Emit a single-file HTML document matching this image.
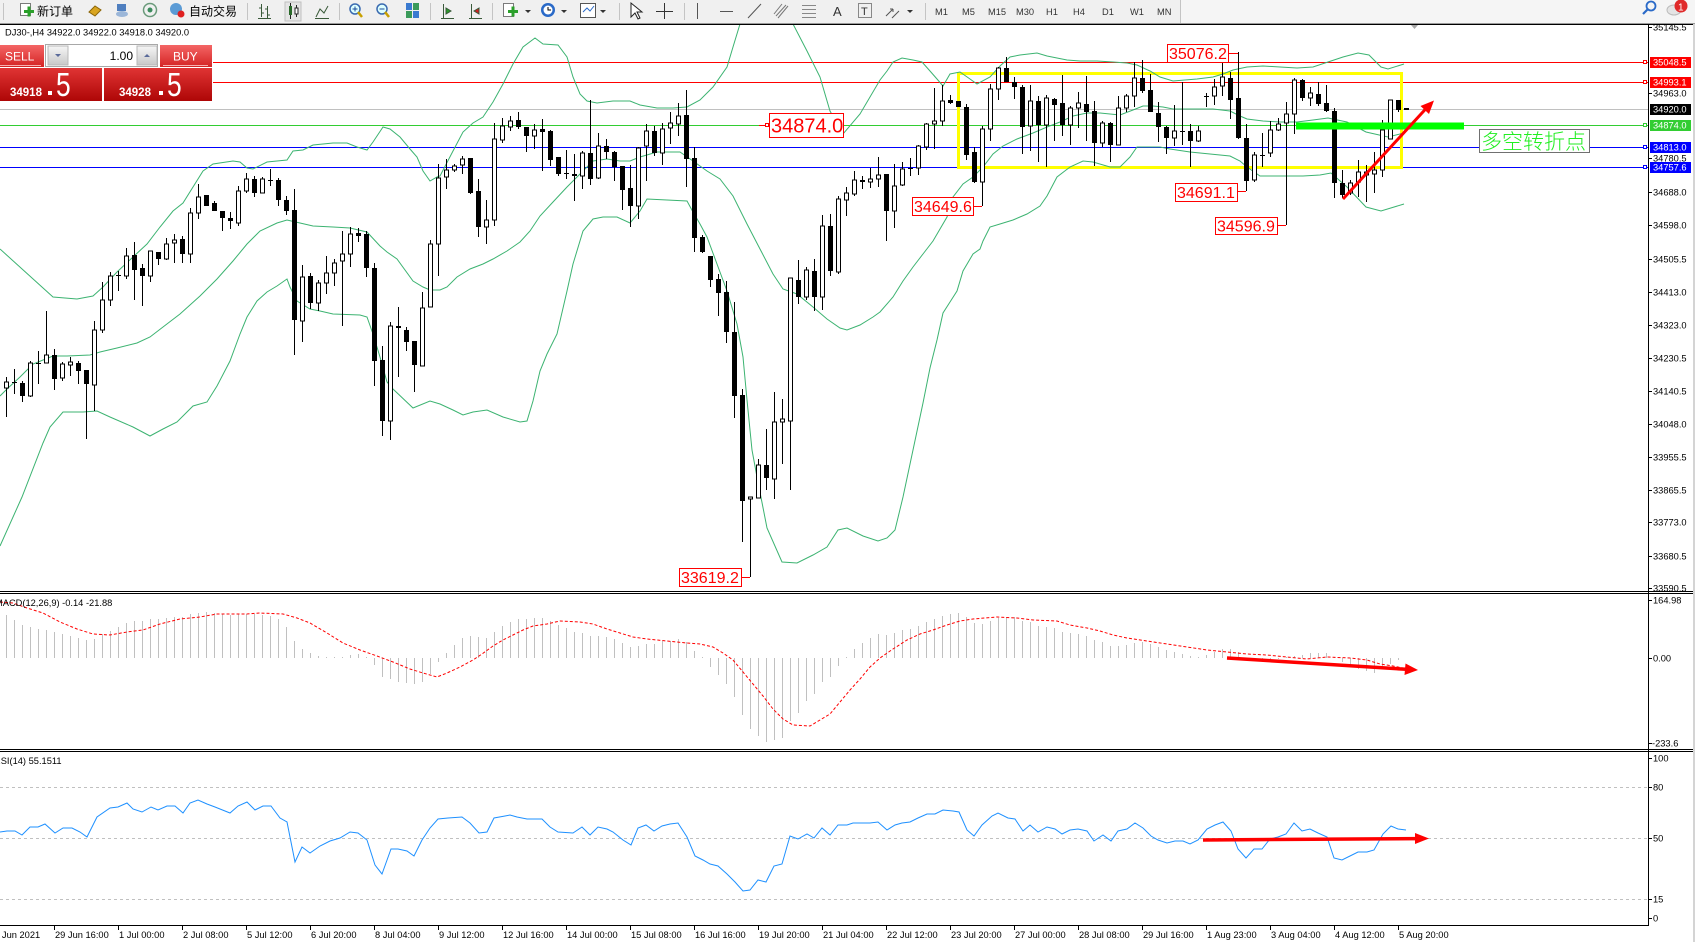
<!DOCTYPE html>
<html><head><meta charset="utf-8"><title>DJ30 H4 chart</title>
<style>
html,body{margin:0;padding:0;background:#fff}
body{width:1695px;height:942px;overflow:hidden;position:relative}
#s{position:absolute;left:0;top:0;font-family:"Liberation Sans","Noto Sans CJK SC",sans-serif}
</style></head><body>
<svg id="s" width="1695" height="942" viewBox="0 0 1695 942" xmlns="http://www.w3.org/2000/svg">
<defs>
<linearGradient id="gb" x1="0" y1="0" x2="0" y2="1"><stop offset="0" stop-color="#f46565"/><stop offset="1" stop-color="#d42424"/></linearGradient>
<linearGradient id="gp" x1="0" y1="0" x2="0" y2="1"><stop offset="0" stop-color="#e03434"/><stop offset="1" stop-color="#ae0606"/></linearGradient>
<linearGradient id="gs" x1="0" y1="0" x2="0" y2="1"><stop offset="0" stop-color="#f6f6f6"/><stop offset="1" stop-color="#c8c8c8"/></linearGradient>
<clipPath id="cm"><rect x="0" y="25" width="1648" height="566"/></clipPath>
<clipPath id="cd"><rect x="0" y="594" width="1648" height="155"/></clipPath>
<clipPath id="cr"><rect x="0" y="752" width="1648" height="173"/></clipPath>
</defs>
<rect width="1695" height="942" fill="#fff"/>

<!-- toolbar -->
<g shape-rendering="crispEdges">
<rect x="0" y="0" width="1695" height="23" fill="#f0f0f0"/>
<rect x="1180" y="0" width="515" height="23" fill="#f5f5f5"/>
<line x1="0" x2="1695" y1="23.5" y2="23.5" stroke="#9a9a9a"/>
<line x1="0" x2="1695" y1="24.5" y2="24.5" stroke="#000"/>
<g stroke="#c4c4c4">
<line x1="3.5" x2="3.5" y1="3" y2="20"/><line x1="247.5" x2="247.5" y1="3" y2="20"/><line x1="339.5" x2="339.5" y1="3" y2="20"/>
<line x1="430.5" x2="430.5" y1="3" y2="20"/><line x1="492.5" x2="492.5" y1="3" y2="20"/><line x1="619.5" x2="619.5" y1="3" y2="20"/>
<line x1="684.5" x2="684.5" y1="3" y2="20"/><line x1="925.5" x2="925.5" y1="3" y2="20"/><line x1="1180.5" x2="1180.5" y1="0" y2="23"/>
</g>
</g>
<g>
<rect x="20.5" y="3.5" width="10" height="12" fill="#fff" stroke="#7a7a7a"/>
<rect x="24" y="10" width="10" height="3" fill="#2aa02a"/><rect x="27.5" y="6.5" width="3" height="10" fill="#2aa02a"/>
<text x="37" y="15.5" font-size="12" fill="#000" font-family="Liberation Sans,Noto Sans CJK SC,sans-serif">新订单</text>
<polygon points="89,12 95,6 101,10 95,16" fill="#d9a520" stroke="#8b6508"/>
<rect x="117" y="4" width="9" height="7" fill="#4f7fbf"/><ellipse cx="122" cy="14" rx="6" ry="3" fill="#9bb6d8"/>
<circle cx="150" cy="10" r="6.5" fill="none" stroke="#6a9a7a" stroke-width="1.5"/><circle cx="150" cy="10" r="2.5" fill="#3c8c5c"/>
<circle cx="176" cy="9" r="6" fill="#5b9bd5"/><circle cx="181" cy="14" r="3.5" fill="#e02020"/>
<text x="189" y="15.5" font-size="12" fill="#000" font-family="Liberation Sans,Noto Sans CJK SC,sans-serif">自动交易</text>
<path d="M261.5 4V17M261.5 8H259M261.5 13H264M267.5 6V18M267.5 9H265M267.5 15H270M258 18.5H271" stroke="#3a5a3a" fill="none"/>
<rect x="285" y="2" width="16" height="19" fill="#e4e4e4" stroke="#c0c0c0"/>
<path d="M290.5 3V19M296.5 5V17" stroke="#222"/><rect x="289" y="6" width="3" height="9" fill="#2a6a2a"/><rect x="295" y="8" width="3" height="6" fill="#fff" stroke="#222"/>
<path d="M316 17L320 9L324 13L328 6M315 18.5H329" stroke="#3a5a3a" fill="none"/>
<circle cx="355" cy="9" r="5" fill="#dff" stroke="#3a6ab0" stroke-width="1.5"/><path d="M358 12L362 17" stroke="#c8a000" stroke-width="2.5"/><path d="M352.5 9H357.5M355 6.5V11.5" stroke="#1a4a9a"/>
<circle cx="382" cy="9" r="5" fill="#dff" stroke="#3a6ab0" stroke-width="1.5"/><path d="M385 12L389 17" stroke="#c8a000" stroke-width="2.5"/><path d="M379.5 9H384.5" stroke="#1a4a9a"/>
<rect x="406" y="3" width="6" height="7" fill="#3a7ad0"/><rect x="413" y="3" width="6" height="7" fill="#3a9a5a"/><rect x="406" y="11" width="6" height="7" fill="#3a9a5a"/><rect x="413" y="11" width="6" height="7" fill="#3a7ad0"/>
<path d="M443.5 4V18M441 18.5H454M446 8L451 11L446 14Z" stroke="#3a5a3a" fill="#2a9a2a"/>
<path d="M471.5 4V18M469 18.5H482M479 8L474 11L479 14Z" stroke="#3a5a3a" fill="#d02020"/>
<rect x="503.5" y="3.5" width="10" height="13" fill="#fff" stroke="#7a7a7a"/><rect x="508" y="10" width="10" height="3" fill="#2aa02a"/><rect x="511.5" y="6.5" width="3" height="10" fill="#2aa02a"/>
<path d="M525 10H531L528 13Z" fill="#333"/>
<circle cx="548" cy="10" r="7" fill="#2a6ac8"/><circle cx="548" cy="10" r="4.5" fill="#fff"/><path d="M548 7V10H551" stroke="#000" fill="none"/>
<path d="M561 10H567L564 13Z" fill="#333"/>
<rect x="580.5" y="3.5" width="15" height="14" fill="#fff" stroke="#555"/><path d="M583 12L587 8L590 11L594 6" stroke="#2a6ac8" fill="none"/>
<path d="M600 10H606L603 13Z" fill="#333"/>
<path d="M631 3V17L635 13L638 19L640 18L637 12L642 12Z" fill="#fff" stroke="#222"/>
<path d="M664.5 3V19M656 11.5H673" stroke="#333"/>
<path d="M697.5 3V19" stroke="#555"/>
<path d="M720 11.5H733" stroke="#555"/>
<path d="M748 18L761 4" stroke="#555"/>
<path d="M774 14L782 4M778 18L788 6M776 16L786 5" stroke="#777"/>
<path d="M802 5.5H816M802 9.5H816M802 13.5H816M802 17.5H816" stroke="#888"/>
<text x="833" y="16" font-size="13" fill="#333">A</text>
<rect x="858.5" y="3.5" width="13" height="14" fill="none" stroke="#888"/><text x="861" y="15" font-size="11" fill="#333">T</text>
<path d="M886 16L893 9M893 9L890 9M893 9L893 12M892 18L899 11" stroke="#555" fill="none"/>
<path d="M907 10H913L910 13Z" fill="#333"/>
<g font-size="9.3" fill="#333">
<text x="935" y="15">M1</text><text x="962" y="15">M5</text><text x="988" y="15">M15</text><text x="1016" y="15">M30</text>
<text x="1046" y="15">H1</text><text x="1073" y="15">H4</text><text x="1102" y="15">D1</text><text x="1130" y="15">W1</text><text x="1157" y="15">MN</text>
</g>
<circle cx="1651" cy="6" r="4.5" fill="none" stroke="#2a6ac8" stroke-width="1.8"/><path d="M1648 9L1643 14" stroke="#2a6ac8" stroke-width="2.2"/>
<ellipse cx="1674" cy="10" rx="7" ry="5" fill="#e4e4e4" stroke="#bbb"/>
<circle cx="1681" cy="6" r="6.5" fill="#e02a2a"/><text x="1678" y="10.5" font-size="10" fill="#fff">1</text>
</g>

<!-- chart label -->
<text x="5" y="35.5" font-size="9.3" fill="#000">DJ30-,H4  34922.0 34922.0 34918.0 34920.0</text>
<polygon points="1411,25 1418,25 1414.5,29" fill="#a8a8a8"/>

<!-- horizontal lines -->
<g shape-rendering="crispEdges">
<line x1="0" x2="1648" y1="62.5" y2="62.5" stroke="#ff0000"/>
<line x1="0" x2="1648" y1="82.5" y2="82.5" stroke="#ff0000"/>
<line x1="0" x2="1648" y1="109.5" y2="109.5" stroke="#c0c0c0"/>
<line x1="0" x2="1648" y1="125.5" y2="125.5" stroke="#32cd32"/>
<line x1="0" x2="1648" y1="147.5" y2="147.5" stroke="#0000ff"/>
<line x1="0" x2="1648" y1="167.5" y2="167.5" stroke="#0000ff"/>
</g>
<rect x="958.5" y="73.5" width="443" height="94" fill="none" stroke="#ffff00" stroke-width="3" shape-rendering="crispEdges"/>

<!-- Bollinger bands -->
<g clip-path="url(#cm)" fill="none" stroke="#3cb371" stroke-width="1">
<polyline points="0,249 53,297 77,299 93,296 103,287 117,272 133,257 147,244 160,227 173,211 183,203 193,187 203,171 213,164 233,161 240,162 247,168 253,169 267,162 277,161 287,160 293,151 303,150 313,145 333,143 347,143 357,147 367,150 373,142 383,127 390,129 400,137 410,149 417,157 423,171 430,181 437,177 440,176 453,151 463,132 473,123 483,117 493,102 503,84 513,64 523,47 535,38 543,44 558,45 567,57 573,77 580,94 587,101 597,103 613,101 630,101 640,105 657,108 673,108 687,107 700,100 713,87 727,67 733,47 740,24 755,-5 766,-12 780,-5 793,24 807,51 820,77 830,111 843,134 860,114 880,80 887,71 893,62 902,58 913,60 922,62 930,71 937,79 943,86 950,74 960,72 970,79 977,84 990,77 1000,66 1010,57 1020,55 1037,53 1047,56 1067,60 1080,61 1097,61 1113,62 1127,63 1137,65 1150,71 1160,77 1173,81 1197,79 1213,77 1223,74 1233,70 1247,67 1263,66 1280,67 1297,68 1313,67 1328,62 1343,57 1358,53 1369,55 1381,67 1388,69 1404,64"/>
<polyline points="0,396 7,389 20,377 33,364 53,356 67,356 90,355 100,352 117,348 137,343 150,337 163,327 180,314 200,296 217,279 233,261 247,244 260,231 277,223 287,220 300,223 313,226 333,227 350,228 367,232 380,246 387,252 397,259 413,281 423,287 430,290 440,290 447,287 457,277 470,269 483,264 493,259 507,251 520,242 530,231 540,216 553,202 567,187 580,174 593,161 607,159 620,161 630,161 640,157 657,152 680,152 693,161 707,171 720,179 733,196 747,224 760,249 773,274 783,289 797,294 813,307 827,319 840,328 847,330 860,325 873,317 880,312 893,297 903,281 913,267 923,254 933,241 947,217 953,197 963,184 973,177 983,167 993,154 1003,146 1017,139 1033,133 1047,127 1060,122 1073,116 1087,113 1100,113 1120,115 1133,110 1143,106 1153,106 1163,107 1173,109 1197,109 1213,109 1230,111 1240,116 1247,119 1263,121 1280,122 1297,122 1313,120 1328,118 1347,122 1366,132 1388,137 1404,133"/>
<polyline points="0,546 22,497 43,443 50,427 63,412 83,412 97,411 110,417 133,427 150,436 163,429 177,422 193,406 207,402 217,386 230,361 240,334 247,317 257,301 267,292 277,286 287,279 290,287 297,301 310,309 320,311 333,314 360,315 367,317 373,334 380,357 387,382 393,389 413,408 430,401 440,404 453,410 463,415 473,412 487,410 503,417 520,422 527,421 533,401 540,371 547,354 557,334 567,291 573,264 583,231 593,219 603,217 617,217 630,223 640,211 647,199 667,200 687,201 693,212 700,224 707,237 717,264 727,291 737,324 743,357 747,400 752,450 757,477 767,528 782,562 797,563 813,555 827,547 838,530 847,528 863,536 878,541 887,538 895,530 903,497 913,450 923,403 930,368 937,340 943,313 950,302 957,291 963,271 973,254 980,249 983,241 990,227 1000,224 1013,220 1027,214 1040,206 1047,196 1057,177 1070,167 1083,161 1093,162 1110,167 1120,167 1130,157 1137,147 1160,147 1170,149 1190,152 1210,154 1230,156 1240,161 1247,167 1260,176 1280,176 1303,176 1320,175 1331,173 1347,187 1366,207 1381,211 1404,204"/>
</g>

<!-- candles -->
<g shape-rendering="crispEdges" clip-path="url(#cm)">
<path fill="none" stroke="#000" stroke-width="1" d="M-1.5 334V388M6.5 377V417M14.5 369V394M22.5 381V402M30.5 361V397M38.5 351V384M46.5 311V363M54.5 349V390M62.5 362V381M70.5 357V376M78.5 361V384M86.5 370V439M94.5 321V411M102.5 282V333M110.5 272V306M118.5 271V291M126.5 248V279M134.5 242V300M142.5 264V306M150.5 251V282M158.5 252V265M166.5 238V260M174.5 234V263M182.5 236V263M190.5 208V263M198.5 184V219M206.5 195V206M214.5 201V211M222.5 211V231M230.5 212V229M238.5 186V226M246.5 173V193M254.5 176V197M262.5 177V193M270.5 169V186M278.5 178V206M286.5 196V215M294.5 189V355M302.5 265V342M310.5 273V309M318.5 280V311M326.5 256V294M334.5 259V286M342.5 231V326M350.5 227V267M358.5 228V242M366.5 231V277M374.5 263V386M382.5 346V436M390.5 322V440M398.5 307V377M406.5 327V351M414.5 341V392M422.5 292V366M430.5 240V307M438.5 164V276M446.5 159V189M454.5 164V172M462.5 156V174M470.5 158V194M478.5 179V237M486.5 200V244M494.5 123V226M502.5 118V143M510.5 116V131M518.5 112V129M526.5 127V152M534.5 124V149M542.5 119V171M550.5 130V166M558.5 157V176M566.5 150V179M574.5 154V201M582.5 151V189M590.5 100V185M598.5 133V179M606.5 139V159M614.5 151V181M622.5 166V210M630.5 165V227M638.5 147V219M646.5 124V181M654.5 126V156M662.5 123V165M670.5 112V144M678.5 103V136M686.5 90V187M694.5 147V252M702.5 235V253M710.5 256V287M718.5 274V316M726.5 281V343M734.5 302V418M742.5 389V542M750.5 497V577M758.5 459V498M766.5 429V490M774.5 392V499M782.5 399V464M790.5 278V490M798.5 260V304M806.5 267V300M814.5 259V311M822.5 215V310M830.5 214V276M838.5 196V274M846.5 187V216M854.5 171V196M862.5 176V189M870.5 168V188M878.5 157V187M886.5 174V241M894.5 164V228M902.5 162V186M910.5 158V176M918.5 145V175M926.5 123V150M934.5 88V149M942.5 85V126M950.5 95V104M958.5 101V107M966.5 104V160M974.5 147V183M982.5 126V206M990.5 84V141M998.5 67V100M1006.5 57V82M1014.5 77V99M1022.5 85V154M1030.5 85V151M1038.5 96V162M1046.5 95V167M1054.5 98V141M1062.5 75V136M1070.5 106V145M1078.5 92V128M1086.5 76V141M1094.5 101V166M1102.5 121V147M1110.5 122V162M1118.5 96V145M1126.5 94V112M1134.5 62V107M1142.5 60V93M1150.5 74V112M1158.5 102V142M1166.5 126V154M1174.5 105V146M1182.5 82V145M1190.5 124V167M1198.5 126V142M1206.5 93V107M1214.5 79V105M1222.5 62V96M1230.5 72V119M1238.5 52V139M1246.5 124V191M1254.5 152V182M1262.5 133V167M1270.5 121V157M1278.5 118V131M1286.5 102V225M1294.5 78V134M1302.5 79V101M1310.5 87V106M1318.5 82V106M1326.5 85V112M1334.5 108V198M1342.5 170V198M1350.5 180V195M1358.5 160V197M1366.5 165V202M1374.5 152V193M1382.5 120V177M1390.5 100V139M1398.5 100V112"/>
<path fill="#000" d="M20 383h5V396h-5zM52 355h5V379h-5zM76 363h5V371h-5zM84 370h5V384h-5zM132 255h5V270h-5zM140 268h5V276h-5zM156 252h5V259h-5zM180 239h5V254h-5zM204 195h5V206h-5zM212 203h5V211h-5zM220 211h5V218h-5zM228 218h5V221h-5zM252 179h5V193h-5zM276 180h5V200h-5zM284 200h5V211h-5zM292 210h5V320h-5zM308 276h5V303h-5zM356 233h5V236h-5zM364 234h5V268h-5zM372 268h5V361h-5zM380 360h5V421h-5zM396 326h5V328h-5zM404 330h5V342h-5zM412 341h5V365h-5zM468 158h5V193h-5zM476 191h5V227h-5zM516 120h5V127h-5zM524 127h5V136h-5zM540 129h5V132h-5zM548 131h5V160h-5zM556 157h5V174h-5zM572 174h5V176h-5zM588 153h5V179h-5zM604 146h5V152h-5zM612 152h5V167h-5zM620 166h5V190h-5zM628 188h5V206h-5zM652 131h5V153h-5zM684 115h5V159h-5zM692 158h5V238h-5zM700 237h5V252h-5zM708 256h5V280h-5zM716 279h5V293h-5zM724 292h5V332h-5zM732 332h5V396h-5zM740 395h5V501h-5zM764 465h5V478h-5zM796 280h5V297h-5zM812 271h5V297h-5zM828 226h5V271h-5zM860 180h5V182h-5zM884 174h5V211h-5zM948 100h5V103h-5zM956 101h5V107h-5zM964 107h5V155h-5zM972 152h5V182h-5zM1004 68h5V82h-5zM1012 82h5V87h-5zM1020 87h5V127h-5zM1036 101h5V125h-5zM1052 99h5V105h-5zM1060 103h5V125h-5zM1084 104h5V112h-5zM1092 111h5V143h-5zM1108 123h5V145h-5zM1140 78h5V91h-5zM1148 90h5V112h-5zM1156 113h5V127h-5zM1164 127h5V138h-5zM1188 131h5V141h-5zM1228 78h5V100h-5zM1236 98h5V138h-5zM1244 138h5V181h-5zM1300 80h5V98h-5zM1316 94h5V104h-5zM1324 103h5V111h-5zM1332 111h5V183h-5zM1340 183h5V195h-5zM1396 100h5V110h-5z"/>
<path fill="#fff" stroke="#000" stroke-width="1" d="M4.5 382h4V388h-4zM28.5 363h4V396h-4zM44.5 355h4V363h-4zM60.5 364h4V378h-4zM68.5 362h4V365h-4zM92.5 330h4V385h-4zM100.5 300h4V330h-4zM108.5 276h4V300h-4zM124.5 256h4V276h-4zM148.5 251h4V276h-4zM164.5 244h4V259h-4zM172.5 240h4V243h-4zM188.5 213h4V254h-4zM196.5 197h4V213h-4zM236.5 191h4V223h-4zM244.5 179h4V191h-4zM260.5 179h4V193h-4zM300.5 277h4V321h-4zM316.5 283h4V303h-4zM324.5 273h4V283h-4zM332.5 263h4V273h-4zM340.5 254h4V261h-4zM348.5 234h4V254h-4zM388.5 326h4V421h-4zM420.5 308h4V366h-4zM428.5 244h4V307h-4zM436.5 178h4V244h-4zM444.5 170h4V177h-4zM452.5 166h4V170h-4zM460.5 159h4V165h-4zM484.5 220h4V227h-4zM492.5 139h4V220h-4zM500.5 126h4V140h-4zM508.5 121h4V127h-4zM532.5 130h4V136h-4zM580.5 153h4V176h-4zM596.5 146h4V178h-4zM636.5 148h4V206h-4zM644.5 131h4V146h-4zM660.5 129h4V153h-4zM668.5 123h4V128h-4zM676.5 116h4V124h-4zM748.5 497h4V499h-4zM756.5 465h4V498h-4zM772.5 422h4V479h-4zM780.5 419h4V422h-4zM788.5 278h4V421h-4zM804.5 270h4V297h-4zM820.5 226h4V297h-4zM836.5 199h4V272h-4zM844.5 193h4V200h-4zM852.5 180h4V194h-4zM868.5 179h4V182h-4zM876.5 175h4V179h-4zM892.5 186h4V211h-4zM900.5 169h4V185h-4zM916.5 146h4V168h-4zM924.5 124h4V147h-4zM932.5 121h4V124h-4zM940.5 101h4V121h-4zM980.5 129h4V182h-4zM988.5 89h4V129h-4zM996.5 68h4V89h-4zM1028.5 101h4V126h-4zM1044.5 98h4V125h-4zM1068.5 108h4V125h-4zM1076.5 103h4V108h-4zM1100.5 123h4V143h-4zM1116.5 108h4V145h-4zM1124.5 96h4V108h-4zM1132.5 78h4V96h-4zM1172.5 131h4V138h-4zM1196.5 131h4V141h-4zM1212.5 87h4V96h-4zM1220.5 77h4V86h-4zM1252.5 155h4V180h-4zM1268.5 130h4V153h-4zM1276.5 124h4V130h-4zM1284.5 114h4V123h-4zM1292.5 80h4V114h-4zM1308.5 93h4V98h-4zM1348.5 183h4V193h-4zM1356.5 172h4V182h-4zM1364.5 172h4V175h-4zM1372.5 170h4V174h-4zM1380.5 130h4V170h-4zM1388.5 100h4V139h-4z"/>
<path fill="none" stroke="#000" stroke-width="1" d="M12 382.5h5M36 363.5h5M116 275.5h5M268 180.5h5M564 173.5h5M908 168.5h5M1180 131.5h5M1204 96.5h5M1260 155.5h5"/>
<path fill="none" stroke="#000" stroke-width="2" d="M1404 109h5"/>
</g>

<!-- objects -->
<rect x="1296" y="122.5" width="168" height="7" fill="#00ff00" shape-rendering="crispEdges"/>
<rect x="1479.5" y="129.5" width="110" height="23" fill="#fff" stroke="#707070" shape-rendering="crispEdges"/>
<text x="1481" y="149" font-size="21" fill="#22ee22" font-weight="300" font-family="Noto Sans CJK SC,WenQuanYi Zen Hei,sans-serif">多空转折点</text>

<g font-size="16" fill="#ff0000" shape-rendering="crispEdges">
<path d="M759 125.5H767M1228 53.5H1238M973 206.5H982M1237 191.5H1246M1277 225.5H1286M741 577.5H750" stroke="#ff0000"/>
<rect x="765.5" y="123.5" width="3" height="3" fill="#fff" stroke="#ff0000"/>
<rect x="769.5" y="113.5" width="74" height="24" fill="#fff" stroke="#ff0000"/>
<text x="771" y="132.5" font-size="20">34874.0</text>
<rect x="1167.5" y="44.5" width="61" height="18" fill="#fff" stroke="#ff0000"/><text x="1169" y="59">35076.2</text>
<rect x="912.5" y="197.5" width="61" height="18" fill="#fff" stroke="#ff0000"/><text x="914" y="212">34649.6</text>
<rect x="1175.5" y="183.5" width="62" height="18" fill="#fff" stroke="#ff0000"/><text x="1177" y="198">34691.1</text>
<rect x="1215.5" y="217.5" width="62" height="17" fill="#fff" stroke="#ff0000"/><text x="1217" y="231.5">34596.9</text>
<rect x="679.5" y="568.5" width="62" height="18" fill="#fff" stroke="#ff0000"/><text x="681" y="583">33619.2</text>
</g>

<!-- main red arrow -->
<line x1="1343" y1="199" x2="1427" y2="107.5" stroke="#ff0000" stroke-width="3"/>
<polygon points="1434,100.5 1429,114 1420.5,106" fill="#ff0000"/>

<!-- SELL/BUY panel -->
<g>
<rect x="0" y="44" width="213" height="57" fill="#fff"/>
<rect x="0" y="45" width="44" height="22" fill="url(#gb)"/>
<line x1="0" x2="41" y1="65.5" y2="65.5" stroke="#f7b0b0"/>
<text x="5" y="60.5" font-size="12" fill="#fff">SELL</text>
<rect x="45.5" y="44.5" width="112" height="22" fill="#fff" stroke="#a8a8a8"/>
<rect x="48" y="46" width="20" height="19" fill="url(#gs)" stroke="#b8b8b8"/>
<path d="M55 54H61L58 57Z" fill="#5a6a9a"/>
<rect x="137" y="46" width="20" height="19" fill="url(#gs)" stroke="#b8b8b8"/>
<path d="M144 57H150L147 54Z" fill="#5a6a9a"/>
<text x="133" y="60" font-size="12" fill="#000" text-anchor="end">1.00</text>
<rect x="160" y="45" width="52" height="22" fill="url(#gb)"/>
<line x1="163" x2="208" y1="65.5" y2="65.5" stroke="#f7b0b0"/>
<text x="173" y="60.5" font-size="12" fill="#fff">BUY</text>
<rect x="0" y="68" width="102" height="33" fill="url(#gp)"/>
<rect x="104" y="68" width="108" height="33" fill="url(#gp)"/>
<text x="10" y="96" font-size="11.5" font-weight="bold" fill="#fff">34918</text>
<rect x="48" y="91" width="4" height="4" fill="#fff"/>
<text transform="translate(56,96) scale(0.8,1)" font-size="33" fill="#fff">5</text>
<text x="119" y="96" font-size="11.5" font-weight="bold" fill="#fff">34928</text>
<rect x="159" y="91" width="4" height="4" fill="#fff"/>
<text transform="translate(167,96) scale(0.8,1)" font-size="33" fill="#fff">5</text>
</g>

<!-- MACD -->
<g clip-path="url(#cd)">
<path fill="none" stroke="#c0c0c0" stroke-width="1" shape-rendering="crispEdges" d="M6.5 658V615M14.5 658V620M22.5 658V625M30.5 658V627M38.5 658V629M46.5 658V630M54.5 658V632M62.5 658V634M70.5 658V636M78.5 658V638M86.5 658V640M94.5 658V639M102.5 658V634M110.5 658V631M118.5 658V627M126.5 658V623M134.5 658V621M142.5 658V621M150.5 658V619M158.5 658V619M166.5 658V618M174.5 658V617M182.5 658V617M190.5 658V614M198.5 658V613M206.5 658V612M214.5 658V613M222.5 658V614M230.5 658V615M238.5 658V614M246.5 658V614M254.5 658V614M262.5 658V615M270.5 658V616M278.5 658V619M286.5 658V627M294.5 658V641M302.5 658V649M310.5 658V653M318.5 658V656M326.5 658V657M334.5 658V657M342.5 658V657M350.5 658V655M358.5 658V654M366.5 658V657M374.5 658V665M382.5 658V677M390.5 658V679M398.5 658V682M406.5 658V683M414.5 658V684M422.5 658V682M430.5 658V674M438.5 658V662M446.5 658V653M454.5 658V645M462.5 658V638M470.5 658V636M478.5 658V637M486.5 658V638M494.5 658V632M502.5 658V626M510.5 658V622M518.5 658V619M526.5 658V619M534.5 658V618M542.5 658V618M550.5 658V621M558.5 658V625M566.5 658V628M574.5 658V632M582.5 658V633M590.5 658V636M598.5 658V636M606.5 658V637M614.5 658V639M622.5 658V643M630.5 658V647M638.5 658V646M646.5 658V644M654.5 658V644M662.5 658V641M670.5 658V641M678.5 658V639M686.5 658V642M694.5 658V651M702.5 658V657M710.5 658V667M718.5 658V675M726.5 658V684M734.5 658V697M742.5 658V715M750.5 658V729M758.5 658V736M766.5 658V742M774.5 658V740M782.5 658V738M790.5 658V721M798.5 658V713M806.5 658V701M814.5 658V694M822.5 658V682M830.5 658V677M838.5 658V666M846.5 658V657M854.5 658V649M862.5 658V643M870.5 658V638M878.5 658V634M886.5 658V635M894.5 658V633M902.5 658V630M910.5 658V629M918.5 658V626M926.5 658V622M934.5 658V619M942.5 658V616M950.5 658V614M958.5 658V613M966.5 658V617M974.5 658V623M982.5 658V624M990.5 658V621M998.5 658V618M1006.5 658V617M1014.5 658V617M1022.5 658V621M1030.5 658V622M1038.5 658V626M1046.5 658V627M1054.5 658V628M1062.5 658V632M1070.5 658V633M1078.5 658V634M1086.5 658V636M1094.5 658V640M1102.5 658V642M1110.5 658V646M1118.5 658V646M1126.5 658V645M1134.5 658V643M1142.5 658V642M1150.5 658V644M1158.5 658V647M1166.5 658V650M1174.5 658V652M1182.5 658V654M1190.5 658V656M1198.5 658V657M1206.5 658V655M1214.5 658V652M1222.5 658V649M1230.5 658V649M1238.5 658V652M1246.5 658V659M1254.5 658V660M1262.5 658V662M1270.5 658V660M1278.5 658V659M1286.5 658V657M1294.5 658V656M1302.5 658V655M1310.5 658V653M1318.5 658V653M1326.5 658V653M1334.5 658V657M1342.5 658V662M1350.5 658V667M1358.5 658V669M1366.5 658V671M1374.5 658V673M1382.5 658V667M1390.5 658V664M1398.5 658V660"/>
<polyline fill="none" stroke="#ff0000" stroke-width="1" stroke-dasharray="3,2" points="0,602 13,603 27,608 43,613 60,622 77,629 93,634 110,635 127,632 143,630 160,624 180,619 200,617 217,614 247,614 260,613 283,614 297,618 310,623 327,633 343,643 360,650 377,656 393,662 410,669 423,673 437,677 447,673 460,667 473,660 482,654 493,646 503,640 513,635 523,630 533,626 547,624 560,621 580,622 593,624 607,629 620,633 633,637 647,639 667,641 687,643 700,644 713,647 723,653 733,660 743,672 753,684 763,696 773,709 783,719 793,725 810,726 820,720 830,714 840,702 850,690 860,679 870,667 880,658 893,649 907,640 920,634 933,630 947,625 960,621 973,619 997,617 1017,618 1033,620 1057,621 1070,625 1087,628 1100,631 1113,635 1127,638 1147,641 1167,644 1187,647 1207,650 1227,652 1247,654 1267,655 1287,657 1307,659 1327,657 1350,658 1367,660 1380,664 1393,666 1403,668"/>
</g>

<!-- RSI -->
<g clip-path="url(#cr)">
<g stroke="#c0c0c0" stroke-dasharray="3,3" shape-rendering="crispEdges">
<line x1="0" x2="1648" y1="787.5" y2="787.5"/><line x1="0" x2="1648" y1="838.5" y2="838.5"/><line x1="0" x2="1648" y1="899.5" y2="899.5"/>
</g>
<polyline fill="none" stroke="#1e90ff" stroke-width="1" points="0,832 7,831 15,831 22,835 30,827 38,827 45,824 55,833 63,828 72,828 80,832 87,837 97,817 110,808 118,807 127,803 133,809 142,812 151,807 158,810 167,806 175,806 183,813 190,803 198,800 207,804 215,807 230,813 238,806 247,802 255,810 263,806 271,806 280,818 287,822 295,862 302,847 310,853 320,846 330,841 340,838 350,832 358,833 367,840 375,865 382,874 391,849 398,849 407,851 414,856 422,840 430,828 438,819 448,818 462,817 470,823 479,833 487,832 494,818 505,816 510,815 517,817 527,819 533,819 542,819 550,827 558,832 573,833 582,827 590,835 598,827 607,829 613,832 623,840 631,845 638,828 646,825 654,831 662,826 670,824 678,823 687,837 695,856 703,860 710,864 718,866 727,874 735,882 743,891 750,890 758,880 766,882 774,866 782,864 790,836 798,839 807,834 814,838 822,828 830,835 838,825 847,825 853,823 870,823 878,822 887,830 895,825 902,823 910,822 918,818 927,814 935,814 943,810 953,811 959,812 967,830 974,836 982,825 992,816 998,813 1008,818 1015,819 1023,831 1030,825 1038,832 1047,827 1055,829 1062,834 1070,830 1078,829 1087,831 1094,841 1103,835 1111,841 1118,831 1127,829 1135,823 1143,828 1151,836 1158,840 1167,843 1175,841 1183,841 1190,844 1198,840 1207,829 1215,825 1223,822 1231,831 1238,849 1246,858 1254,849 1262,849 1270,839 1278,837 1286,834 1294,823 1302,831 1310,829 1318,833 1327,837 1334,858 1342,860 1350,856 1358,852 1367,852 1374,850 1383,834 1391,826 1398,829 1406,830"/>
</g>
<text x="-5" y="606" font-size="9.3" fill="#000">MACD(12,26,9) -0.14 -21.88</text>
<text x="-6" y="764" font-size="9.3" fill="#000">RSI(14) 55.1511</text>

<!-- MACD and RSI arrows -->
<line x1="1227" y1="658" x2="1406" y2="669.3" stroke="#ff0000" stroke-width="3.5"/>
<polygon points="1418,670 1404.5,675 1405.5,663.5" fill="#ff0000"/>
<line x1="1203" y1="840" x2="1416" y2="838.6" stroke="#ff0000" stroke-width="3.5"/>
<polygon points="1429,838.5 1415,844 1415,833" fill="#ff0000"/>

<!-- frames -->
<g shape-rendering="crispEdges" stroke="#000">
<line x1="0" x2="1693" y1="591.5" y2="591.5"/><line x1="0" x2="1693" y1="593.5" y2="593.5"/>
<line x1="0" x2="1693" y1="749.5" y2="749.5"/><line x1="0" x2="1693" y1="751.5" y2="751.5"/>
<line x1="0" x2="1649" y1="925.5" y2="925.5"/>
<line x1="1648.5" x2="1648.5" y1="24" y2="926"/>
</g>
<rect x="1693" y="24" width="2" height="918" fill="#d4d4d4"/>

<!-- price axis -->
<g shape-rendering="crispEdges" stroke="#000">
<path d="M1648 27.5h4M1648 93.5h4M1648 158.5h4M1648 192.5h4M1648 225.5h4M1648 259.5h4M1648 292.5h4M1648 325.5h4M1648 358.5h4M1648 391.5h4M1648 424.5h4M1648 457.5h4M1648 490.5h4M1648 522.5h4M1648 556.5h4M1648 588.5h4M1648 600.5h4M1648 658.5h4M1648 743.5h4M1648 758.5h4M1648 787.5h4M1648 838.5h4M1648 899.5h4M1648 918.5h4"/>
</g>
<g font-size="9.3" fill="#000">
<text x="1653" y="30.5">35145.5</text>
<text x="1653" y="96.5">34963.0</text>
<text x="1653" y="161.5">34780.5</text>
<text x="1653" y="195.5">34688.0</text>
<text x="1653" y="228.5">34598.0</text>
<text x="1653" y="262.5">34505.5</text>
<text x="1653" y="295.5">34413.0</text>
<text x="1653" y="328.5">34323.0</text>
<text x="1653" y="361.5">34230.5</text>
<text x="1653" y="394.5">34140.5</text>
<text x="1653" y="427.5">34048.0</text>
<text x="1653" y="460.5">33955.5</text>
<text x="1653" y="493.5">33865.5</text>
<text x="1653" y="525.5">33773.0</text>
<text x="1653" y="559.5">33680.5</text>
<text x="1653" y="591.5">33590.5</text>
<text x="1653" y="603.5">164.98</text>
<text x="1653" y="661.5">0.00</text>
<text x="1652" y="746.5">-233.6</text>
<text x="1653" y="761.5">100</text>
<text x="1653" y="790.5">80</text>
<text x="1653" y="841.5">50</text>
<text x="1653" y="902.5">15</text>
<text x="1653" y="921.5">0</text>
</g>
<g shape-rendering="crispEdges">
<rect x="1643.5" y="60.5" width="3" height="3" fill="#fff" stroke="#ff0000"/>
<rect x="1643.5" y="80.5" width="3" height="3" fill="#fff" stroke="#ff0000"/>
<rect x="1643.5" y="123.5" width="3" height="3" fill="#fff" stroke="#32cd32"/>
<rect x="1643.5" y="145.5" width="3" height="3" fill="#fff" stroke="#0000ff"/>
<rect x="1643.5" y="165.5" width="3" height="3" fill="#fff" stroke="#0000ff"/>
<rect x="1650" y="57" width="41" height="11" fill="#ff0000"/>
<rect x="1650" y="77" width="41" height="11" fill="#ff0000"/>
<rect x="1650" y="104" width="41" height="11" fill="#000000"/>
<rect x="1650" y="120" width="41" height="11" fill="#32cd32"/>
<rect x="1650" y="142" width="41" height="11" fill="#0000ff"/>
<rect x="1650" y="162" width="41" height="11" fill="#0000ff"/>
</g>
<g font-size="9.3" fill="#fff">
<text x="1653" y="65.5">35048.5</text>
<text x="1653" y="85.5">34993.1</text>
<text x="1653" y="112.5">34920.0</text>
<text x="1653" y="128.5">34874.0</text>
<text x="1653" y="150.5">34813.0</text>
<text x="1653" y="170.5">34757.6</text>
</g>

<!-- time axis -->
<path shape-rendering="crispEdges" stroke="#000" d="M54.5 925V930M118.5 925V930M182.5 925V930M246.5 925V930M310.5 925V930M374.5 925V930M438.5 925V930M502.5 925V930M566.5 925V930M630.5 925V930M694.5 925V930M758.5 925V930M822.5 925V930M886.5 925V930M950.5 925V930M1014.5 925V930M1078.5 925V930M1142.5 925V930M1206.5 925V930M1270.5 925V930M1334.5 925V930M1398.5 925V930"/>
<g font-size="9.3" fill="#000">
<text x="-11" y="938">28 Jun 2021</text>
<text x="55" y="938">29 Jun 16:00</text>
<text x="119" y="938">1 Jul 00:00</text>
<text x="183" y="938">2 Jul 08:00</text>
<text x="247" y="938">5 Jul 12:00</text>
<text x="311" y="938">6 Jul 20:00</text>
<text x="375" y="938">8 Jul 04:00</text>
<text x="439" y="938">9 Jul 12:00</text>
<text x="503" y="938">12 Jul 16:00</text>
<text x="567" y="938">14 Jul 00:00</text>
<text x="631" y="938">15 Jul 08:00</text>
<text x="695" y="938">16 Jul 16:00</text>
<text x="759" y="938">19 Jul 20:00</text>
<text x="823" y="938">21 Jul 04:00</text>
<text x="887" y="938">22 Jul 12:00</text>
<text x="951" y="938">23 Jul 20:00</text>
<text x="1015" y="938">27 Jul 00:00</text>
<text x="1079" y="938">28 Jul 08:00</text>
<text x="1143" y="938">29 Jul 16:00</text>
<text x="1207" y="938">1 Aug 23:00</text>
<text x="1271" y="938">3 Aug 04:00</text>
<text x="1335" y="938">4 Aug 12:00</text>
<text x="1399" y="938">5 Aug 20:00</text>
</g>
</svg>
</body></html>
